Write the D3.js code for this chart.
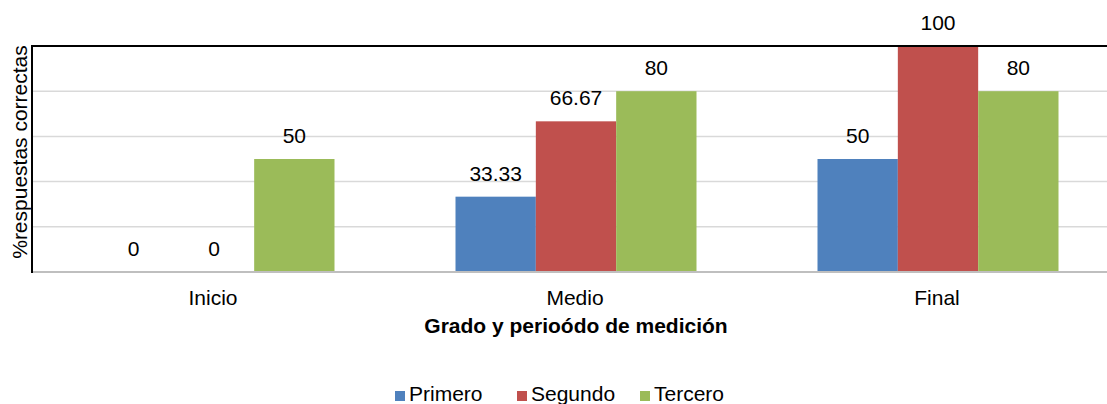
<!DOCTYPE html>
<html>
<head>
<meta charset="utf-8">
<script src="https://cdn.jsdelivr.net/npm/d3@7"></script>
<style>
  body { margin: 0; background: #fff; }
  text { font-family: "Liberation Sans", Arial, sans-serif; fill: #000; }
</style>
</head>
<body>
<svg id="chart" width="1107" height="404"></svg>
<script>
// data
var categories = ["Inicio", "Medio", "Final"];
var seriesNames = ["Primero", "Segundo", "Tercero"];
var primero = [0, 33.33, 50];
var segundo = [0, 66.67, 100];
var tercero = [50, 80, 80];
var yTicks = [0, 20, 40, 60, 80, 100];
var colors = ["#4F81BD", "#C0504D", "#9BBB59"];

var values = [primero, segundo, tercero];

var svg = d3.select("#chart");
var plotLeft = 32, plotTop = 46, plotBottom = 272;
// the plot runs past the right edge of the window, as in the picture
var plotW = 1086;

var x0 = d3.scaleBand().domain(categories).range([plotLeft, plotLeft + plotW]);
var x1 = d3.scaleBand().domain(seriesNames).range([0, 241]);
var y = d3.scaleLinear().domain([0, 100]).range([plotBottom, plotTop]);

// gridlines
svg.append("g")
  .selectAll("line").data(yTicks.slice(1, -1)).join("line")
  .attr("x1", plotLeft).attr("x2", 1107)
  .attr("y1", d => y(d)).attr("y2", d => y(d))
  .attr("stroke", "#d9d9d9").attr("stroke-width", 1.5);

// bars + value labels
var groups = svg.append("g").selectAll("g").data(categories).join("g")
  .attr("transform", d => "translate(" + (x0(d) + x0.bandwidth() / 2 - 119.5) + ",0)");

groups.each(function (cat, ci) {
  var g = d3.select(this);
  seriesNames.forEach(function (s, si) {
    var v = values[si][ci];
    g.append("rect")
      .attr("x", x1(s)).attr("width", x1.bandwidth())
      .attr("y", y(v)).attr("height", plotBottom - y(v))
      .attr("fill", colors[si]);
    g.append("text")
      .attr("x", x1(s) + x1.bandwidth() / 2)
      .attr("y", y(v) - 16)
      .attr("text-anchor", "middle")
      .style("font-size", "21px")
      .text(v);
  });
});

// axes frame
svg.append("line").attr("x1", plotLeft).attr("x2", 1107).attr("y1", plotBottom).attr("y2", plotBottom)
  .attr("stroke", "#bfbfbf").attr("stroke-width", 2);
svg.append("line").attr("x1", plotLeft).attr("x2", 1107).attr("y1", plotTop).attr("y2", plotTop)
  .attr("stroke", "#000").attr("stroke-width", 2);
svg.append("line").attr("x1", plotLeft).attr("x2", plotLeft).attr("y1", plotTop - 1).attr("y2", plotBottom + 1)
  .attr("stroke", "#000").attr("stroke-width", 2);

// category labels
svg.append("g").selectAll("text").data(categories).join("text")
  .attr("x", d => x0(d) + x0.bandwidth() / 2)
  .attr("y", 305)
  .attr("text-anchor", "middle")
  .style("font-size", "21px")
  .text(d => d);

// axis titles
svg.append("text")
  .attr("x", 576).attr("y", 333)
  .attr("text-anchor", "middle")
  .style("font-size", "21px").style("font-weight", "bold")
  .text("Grado y perioódo de medición");

svg.append("text")
  .attr("transform", "translate(27,152) rotate(-90)")
  .attr("text-anchor", "middle")
  .style("font-size", "21px")
  .text("%respuestas correctas");

// legend
var legendX = [395, 517, 640];
var legend = svg.append("g").selectAll("g").data(seriesNames).join("g")
  .attr("transform", (d, i) => "translate(" + legendX[i] + ",391)");
legend.append("rect").attr("width", 10).attr("height", 10).attr("fill", (d, i) => colors[i]);
legend.append("text").attr("x", 14).attr("y", 10).style("font-size", "21px").text(d => d);
</script>
</body>
</html>
